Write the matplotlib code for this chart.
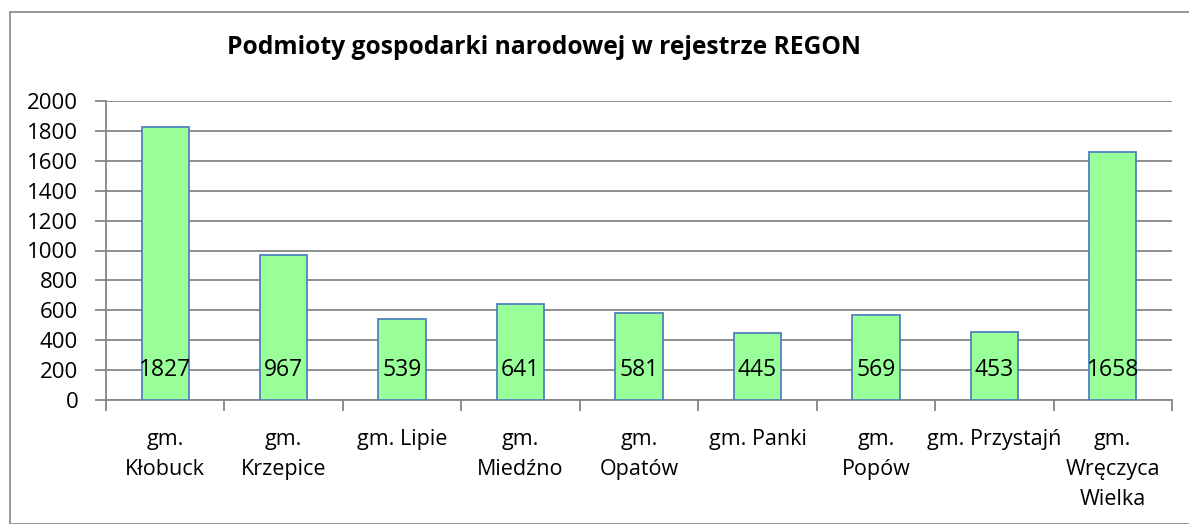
import matplotlib
matplotlib.use("Agg")
import matplotlib.pyplot as plt
from matplotlib.patches import Rectangle

categories = ["gm.\nKłobuck", "gm.\nKrzepice", "gm. Lipie", "gm.\nMiedźno", "gm.\nOpatów",
              "gm. Panki", "gm.\nPopów", "gm. Przystajń", "gm.\nWręczyca\nWielka"]
values = [1827, 967, 539, 641, 581, 445, 569, 453, 1658]
yticks = list(range(0, 2001, 200))
title = "Podmioty gospodarki narodowej w rejestrze REGON"

plt.rcParams['font.family'] = ['Open Sans', 'DejaVu Sans']

W, H = 1189, 524
fig = plt.figure(figsize=(W / 100, H / 100), dpi=100)
fig.patches.append(Rectangle((10 / W, 0), 1.2, (H - 12) / H, transform=fig.transFigure,
                             fill=False, edgecolor='#868686', linewidth=1.2))

ax = fig.add_axes([106 / W, (H - 400) / H, (1172 - 106) / W, (400 - 101) / H])
x = list(range(len(categories)))
ax.bar(x, values, width=0.4, color='#99FF99', edgecolor='#4F81BD', linewidth=1.3, zorder=3)
for xi, v in zip(x, values):
    ax.text(xi, 200, str(v), ha='center', va='center', fontsize=16.5, zorder=4)

ax.set_xlim(-0.5, len(categories) - 0.5)
ax.set_ylim(0, 2000)
ax.set_yticks(yticks)
ax.set_yticklabels([str(t) for t in yticks], fontsize=16)
ax.yaxis.grid(True, color='#868686', linewidth=1.3, zorder=0)
ax.set_axisbelow(True)
ax.set_xticks(x)
ax.set_xticklabels(categories, fontsize=15.5, linespacing=1.55)
ax.tick_params(axis='x', length=0, pad=21)
ax.set_xticks([i - 0.5 for i in range(len(categories) + 1)], minor=True)
ax.tick_params(axis='x', which='minor', length=8, color='#868686', width=1.3)
ax.tick_params(axis='y', length=8, color='#868686', width=1.3, pad=12)
for s in ['top', 'right']:
    ax.spines[s].set_visible(False)
for s in ['left', 'bottom']:
    ax.spines[s].set_color('#868686')
    ax.spines[s].set_linewidth(1.3)

fig.text(544 / W, (H - 47) / H, title, ha='center', va='center', fontsize=17.7, fontweight='bold')

fig.savefig("out.png", dpi=100)
